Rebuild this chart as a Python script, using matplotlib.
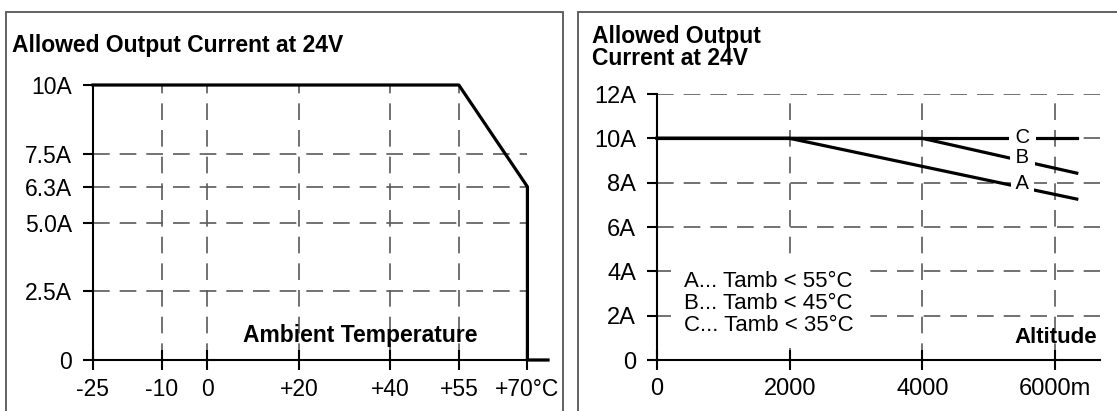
import matplotlib
matplotlib.use("Agg")
import matplotlib.pyplot as plt
from matplotlib.patches import Rectangle

plt.rcParams['font.family'] = ['Liberation Sans', 'DejaVu Sans']

# Temperature derating
temp_ticks = [-25, -10, 0, 20, 40, 55, 70]
temp_labels = ['-25', '-10', '0', '+20', '+40', '+55', '+70°C']
cur_ticks = [0, 2.5, 5.0, 6.3, 7.5, 10]
cur_labels = ['0', '2.5A', '5.0A', '6.3A', '7.5A', '10A']
derate_temp = [-25, 55, 70, 70, 74.5]
derate_cur = [10, 10, 6.3, 0, 0]

# Altitude derating
alt_ticks = [0, 2000, 4000, 6000]
alt_labels = ['0', '2000', '4000', '6000m']
alt_cur_ticks = [0, 2, 4, 6, 8, 10, 12]
alt_cur_labels = ['0', '2A', '4A', '6A', '8A', '10A', '12A']
curve_names = ['C', 'B', 'A']
curve_alt = [[0, 6330], [0, 4000, 6330], [0, 2000, 6330]]
curve_cur = [[10, 10], [10, 10, 8.43], [10, 10, 7.26]]
label_cur = [10.02, 9.12, 7.98]
legend_lines = ['A... Tamb < 55°C', 'B... Tamb < 45°C', 'C... Tamb < 35°C']

W, H = 1117, 411
fig = plt.figure(figsize=(W / 100, H / 100), dpi=100)


def box(x0, y0, x1, y1):
    # pixel box (top-left origin) -> figure fraction rect
    return [x0 / W, 1 - y1 / H, (x1 - x0) / W, (y1 - y0) / H]


grid_kw = dict(color='#5a5a5a', lw=1.2, linestyle=(0, (10, 6)), zorder=1)
curve_kw = dict(color='black', lw=2.3, zorder=3, clip_on=False)


def style_axes(ax, fs):
    for s in ['top', 'right']:
        ax.spines[s].set_visible(False)
    for s in ['left', 'bottom']:
        ax.spines[s].set_linewidth(1.5)
        ax.spines[s].set_zorder(2)
    ax.tick_params(axis='x', direction='inout', length=14, width=1.5, pad=6, labelsize=fs)
    ax.tick_params(axis='y', direction='out', length=7, width=1.5, pad=8, labelsize=fs)


# frames
fig.add_artist(Rectangle((6 / W, -0.1), (563 - 6) / W, 1.1 - 12 / H, transform=fig.transFigure,
                         fill=False, ec='#555555', lw=1.3, clip_on=False))
fig.add_artist(Rectangle((578 / W, -0.1), 1, 1.1 - 12 / H, transform=fig.transFigure,
                         fill=False, ec='#555555', lw=1.3, clip_on=False))

# ---- left panel ----
ax1 = fig.add_axes(box(93, 85, 548, 360))
ax1.set_xlim(-25, 74.5)
ax1.set_ylim(0, 10)
style_axes(ax1, 16.5)
ax1.set_xticks(temp_ticks)
ax1.set_xticklabels(temp_labels)
ax1.set_yticks(cur_ticks)
ax1.set_yticklabels(cur_labels)
ax1.hlines(cur_ticks[1:-1], -25, 70, **grid_kw)
ax1.vlines(temp_ticks[1:-1], 0, 10, **grid_kw)
ax1.plot(derate_temp, derate_cur, **curve_kw)
ax1.text(33.5, 0.65, 'Ambient Temperature', ha='center', va='baseline',
         fontsize=16.5, fontweight='bold')
fig.text(12 / W, 1 - 52 / H, 'Allowed Output Current at 24V', fontsize=16.5,
         fontweight='bold', va='baseline')

# ---- right panel ----
ax2 = fig.add_axes(box(657, 94, 1100, 360))
ax2.set_xlim(0, 6680)
ax2.set_ylim(0, 12)
style_axes(ax2, 17)
ax2.set_xticks(alt_ticks)
ax2.set_xticklabels(alt_labels)
ax2.set_yticks(alt_cur_ticks)
ax2.set_yticklabels(alt_cur_labels)
ax2.hlines(alt_cur_ticks[1:], 0, 6680, **grid_kw)
ax2.vlines(alt_ticks[1:], 0, 12, **grid_kw)
for name, xs, ys, ly in zip(curve_names, curve_alt, curve_cur, label_cur):
    ax2.plot(xs, ys, **curve_kw)
    ax2.text(5510, ly, f' {name} ', ha='center', va='center', fontsize=14.5, zorder=4,
             bbox=dict(fc='white', ec='none', pad=0.3))
ax2.text(400, 2.55, '\n'.join(legend_lines), ha='left', va='center', fontsize=16,
         linespacing=1.05, zorder=4,
         bbox=dict(fc='white', ec='none', boxstyle='square,pad=0.55'))
ax2.text(6020, 0.75, 'Altitude', ha='center', va='baseline', fontsize=16,
         fontweight='bold', zorder=4)
fig.text(592 / W, 1 - 43 / H, 'Allowed Output', fontsize=16.5, fontweight='bold',
         va='baseline')
fig.text(592 / W, 1 - 65 / H, 'Current at 24V', fontsize=16.5, fontweight='bold',
         va='baseline')

fig.savefig('out.png', dpi=100)
